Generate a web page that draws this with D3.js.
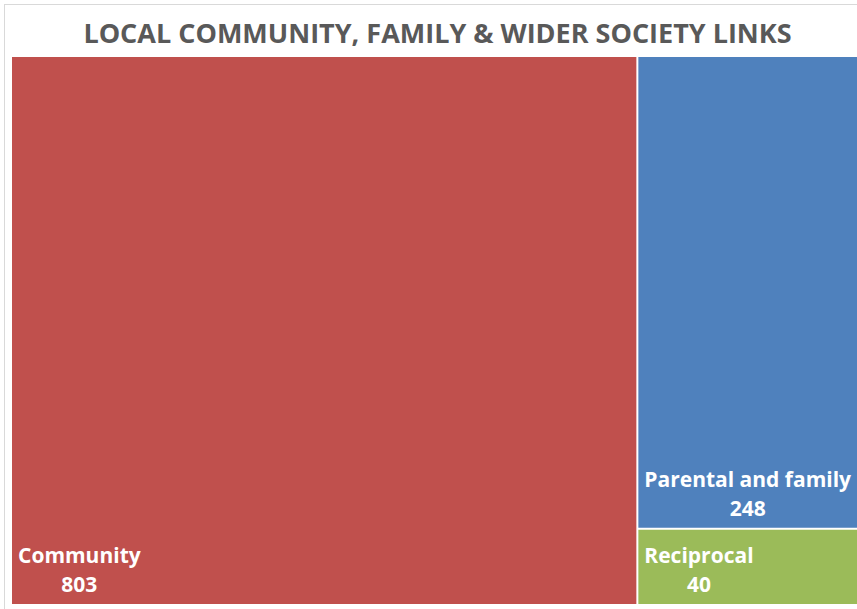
<!DOCTYPE html>
<html>
<head>
<meta charset="utf-8">
<script src="https://cdn.jsdelivr.net/npm/d3@7"></script>
<style>
  html, body { margin: 0; padding: 0; background: #ffffff; }
  svg { display: block; }
  text { font-family: "Open Sans", "Liberation Sans", sans-serif; }
</style>
</head>
<body>
<svg id="chart" width="857" height="609"></svg>
<script>
// Link categories and their counts
const categories = ["Community", "Parental and family", "Reciprocal"];
const counts = [803, 248, 40];
const colors = ["#C0504D", "#4F81BD", "#9BBB59"];
const title = "LOCAL COMMUNITY, FAMILY & WIDER SOCIETY LINKS";

const W = 857, H = 609;
const plot = { x0: 12, y0: 57, x1: 861, y1: 604 };

const svg = d3.select("#chart");

// Chart frame
svg.append("rect")
  .attr("x", 4.5).attr("y", 4.5)
  .attr("width", 880).attr("height", 630)
  .attr("fill", "#ffffff")
  .attr("stroke", "#d9d9d9")
  .attr("stroke-width", 1);

// Title
svg.append("text")
  .attr("x", 437.5)
  .attr("y", 43)
  .attr("text-anchor", "middle")
  .attr("font-size", 27)
  .attr("font-weight", 700)
  .attr("fill", "#595959")
  .text(title);

// Treemap layout
const root = d3.hierarchy({
  name: "root",
  children: categories.map((c, i) => ({ name: c, value: counts[i], color: colors[i] }))
})
  .sum(d => d.value || 0)
  .sort((a, b) => b.value - a.value);

d3.treemap()
  .tile(d3.treemapSquarify)
  .size([plot.x1 - plot.x0, plot.y1 - plot.y0])
  .paddingInner(2)
  .round(false)(root);

const g = svg.append("g").attr("transform", `translate(${plot.x0},${plot.y0})`);

const cell = g.selectAll("g.cell")
  .data(root.leaves())
  .join("g")
  .attr("class", "cell");

cell.append("rect")
  .attr("x", d => d.x0)
  .attr("y", d => d.y0)
  .attr("width", d => d.x1 - d.x0)
  .attr("height", d => d.y1 - d.y0)
  .attr("fill", d => d.data.color);

// Two-line labels anchored at the lower-left of each cell, lines centred on each other
cell.each(function (d) {
  const sel = d3.select(this);
  const lab = sel.append("g");
  const name = lab.append("text")
    .attr("font-size", 21)
    .attr("font-weight", 700)
    .attr("fill", "#ffffff")
    .attr("y", d.y1 - 41)
    .text(d.data.name);
  const w = name.node().getComputedTextLength();
  const left = d.x0 + 6;
  name.attr("x", left);
  lab.append("text")
    .attr("font-size", 21)
    .attr("font-weight", 700)
    .attr("fill", "#ffffff")
    .attr("text-anchor", "middle")
    .attr("x", left + w / 2)
    .attr("y", d.y1 - 12)
    .text(d3.format("d")(d.value));
});
</script>
</body>
</html>
